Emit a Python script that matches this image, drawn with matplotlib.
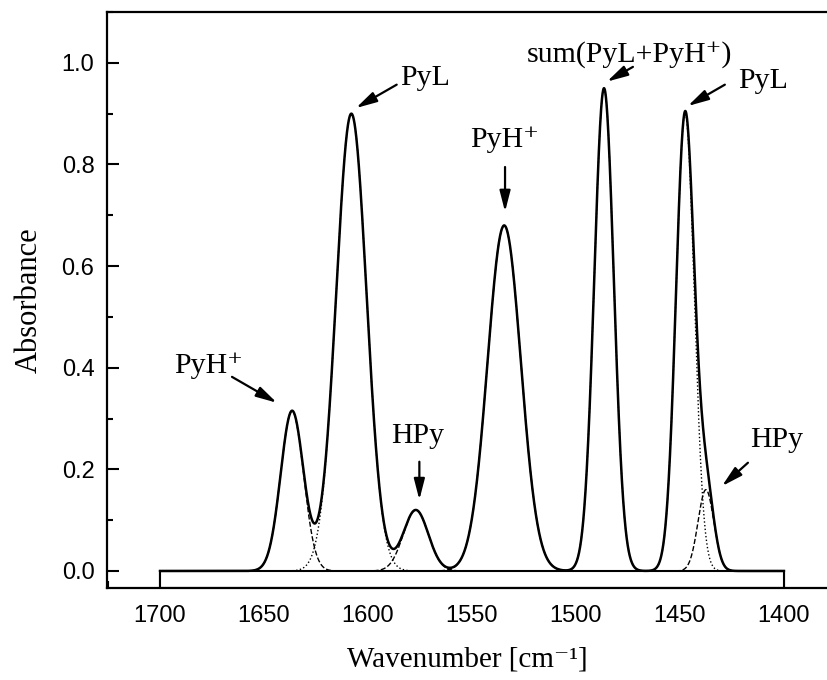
import numpy as np
import matplotlib.pyplot as plt
from matplotlib.patches import Rectangle
from matplotlib.ticker import MultipleLocator

serif = ['Liberation Serif', 'DejaVu Serif']

# fitted bands (cm-1, absorbance, width)
band_names = ['PyH+', 'PyL', 'HPy', 'PyH+', 'sum', 'PyL', 'HPy']
band_centers = [1636.5, 1608, 1577, 1534.5, 1486.5, 1447.5, 1437.5]
band_heights = [0.315, 0.90, 0.12, 0.68, 0.95, 0.90, 0.16]
band_widths = [5.5, 7.3, 6.0, 8.0, 4.7, 4.4, 3.8]
band_styles = ['--', ':', '--', '--', ':', ':', '--']

x_ticks = [1700, 1650, 1600, 1550, 1500, 1450, 1400]
y_ticks = [0.0, 0.2, 0.4, 0.6, 0.8, 1.0]

# annotations: text, text position, arrow tail, arrow head, alignment
ann_text = ['PyH\u207a', 'PyL', 'HPy', 'PyH\u207a', 'sum(PyL+PyH\u207a)', 'PyL', 'HPy']
ann_xy = [(1660.1, 0.390), (1584.6, 0.957), (1576.0, 0.252), (1534.1, 0.835),
          (1425.0, 1.002), (1422.1, 0.951), (1416.3, 0.244)]
ann_tail = [(1665.4, 0.382), (1586.2, 0.957), (1575.3, 0.215), (1534.1, 0.795),
            (1472.6, 0.992), (1428.4, 0.957), (1417.3, 0.213)]
ann_head = [(1643.8, 0.331), (1605.8, 0.911), (1575.3, 0.140), (1534.1, 0.707),
            (1485.1, 0.963), (1446.2, 0.915), (1429.8, 0.167)]
ann_ha = ['right', 'left', 'center', 'center', 'right', 'left', 'left']


def band(x, c, h, w):
    return h * np.exp(-(x - c)**2 / (2 * w**2))


wn = np.linspace(1700, 1400, 3001)
total = np.zeros_like(wn)

fig = plt.figure(figsize=(8.28, 6.8), dpi=100)
ax = fig.add_axes([107/828, 1 - 588/680, 721/828, 576/680])

for c, h, w, ls in zip(band_centers, band_heights, band_widths, band_styles):
    comp = band(wn, c, h, w)
    total += comp
    ax.plot(wn, comp, color='k', ls=ls, lw=1.0, zorder=3)

ax.plot(wn, total, color='k', lw=1.8, zorder=4)

ax.set_xlim(1725.5, 1378.8)
ax.set_ylim(-0.0335, 1.10)

# box under the baseline, like the original x axis
ax.add_patch(Rectangle((1400, -0.0335), 300, 0.0335, facecolor='white',
                       edgecolor='k', lw=1.5, zorder=2))

ax.spines['right'].set_visible(False)
for s in ['left', 'top', 'bottom']:
    ax.spines[s].set_linewidth(1.6)

ax.set_xticks(x_ticks)
ax.set_yticks(y_ticks)
ax.xaxis.set_minor_locator(MultipleLocator(25))
ax.yaxis.set_minor_locator(MultipleLocator(0.1))
ax.set_yticklabels(['%.1f' % v for v in y_ticks])
ax.tick_params(axis='x', which='major', direction='in', length=11, width=1.5,
               pad=12, labelsize=17)
ax.tick_params(axis='x', which='minor', direction='in', length=5, width=1.5)
ax.tick_params(axis='y', which='major', direction='in', length=8.5, width=1.5,
               pad=9, labelsize=17)
ax.tick_params(axis='y', which='minor', direction='in', length=4.5, width=1.5)
for lab in ax.get_xticklabels() + ax.get_yticklabels():
    lab.set_family('Liberation Sans')

ax.set_xlabel('Wavenumber [cm\u207b\u00b9]', family=serif, fontsize=21, labelpad=14)
ax.set_ylabel('Absorbance', family=serif, fontsize=22, labelpad=13)

for t, xy, tail, head, ha in zip(ann_text, ann_xy, ann_tail, ann_head, ann_ha):
    ax.text(xy[0], xy[1], t, ha=ha, va='baseline', family=serif,
            fontsize=21.5, zorder=5)
    ax.annotate('', xy=head, xytext=tail,
                arrowprops=dict(arrowstyle='-|>,head_width=0.18,head_length=0.7',
                                color='k', lw=1.6, shrinkA=0, shrinkB=0,
                                mutation_scale=18))

fig.savefig('out.png', dpi=100)
